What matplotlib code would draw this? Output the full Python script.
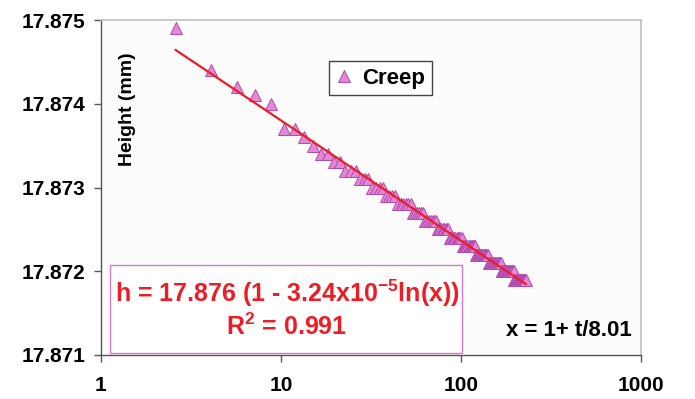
import numpy as np
import matplotlib
matplotlib.use("Agg")
import matplotlib.pyplot as plt
from matplotlib.patches import Rectangle

# x = 1 + t/8.01
x_vals = [2.6, 4.1, 5.7, 7.2, 8.8, 10.4, 11.9, 13.5, 15.0, 16.6,
          18.2, 19.7, 21.3, 22.8, 24.4, 26.0, 27.5, 29.1, 30.6, 32.2,
          33.8, 35.3, 36.9, 38.4, 40.0, 41.6, 43.1, 44.7, 46.2, 47.8,
          49.4, 50.9, 52.5, 54.0, 55.6, 57.2, 58.7, 60.3, 61.8, 63.4,
          65.0, 66.5, 68.1, 69.6, 71.2, 72.8, 74.3, 75.9, 77.4, 79.0,
          80.6, 82.1, 83.7, 85.2, 86.8, 88.4, 89.9, 91.5, 93.0, 94.6,
          96.2, 97.7, 99.3, 100.8, 102.4, 104.0, 105.5, 107.1, 108.6, 110.2,
          111.8, 113.3, 114.9, 116.4, 118.0, 119.6, 121.1, 122.7, 124.2, 125.8,
          127.4, 128.9, 130.5, 132.0, 133.6, 135.2, 136.7, 138.3, 139.8, 141.4,
          143.0, 144.5, 146.1, 147.6, 149.2, 150.8, 152.3, 153.9, 155.4, 157.0,
          158.6, 160.1, 161.7, 163.2, 164.8, 166.4, 167.9, 169.5, 171.0, 172.6,
          174.2, 175.7, 177.3, 178.8, 180.4, 182.0, 183.5, 185.1, 186.6, 188.2,
          189.8, 191.3, 192.9, 194.4, 196.0, 197.6, 199.1, 200.7, 202.2, 203.8,
          205.4, 206.9, 208.5, 210.0, 211.6, 213.2, 214.7, 216.3, 217.8, 219.4,
          221.0, 222.5, 224.1, 225.6, 227.2, 228.8]

# heights are quantised to 0.1 um: level and how many successive points sit on it
h_levels = [17.8749, 17.8744, 17.8742, 17.8741, 17.8740, 17.8737, 17.8736, 17.8735,
            17.8734, 17.8733, 17.8732, 17.8731, 17.8730, 17.8729, 17.8728, 17.8727,
            17.8726, 17.8725, 17.8724, 17.8723, 17.8722, 17.8721, 17.8720, 17.8719]
h_counts = [1, 1, 1, 1, 1, 2, 1, 1,
            2, 2, 3, 3, 4, 4, 6, 6,
            7, 8, 10, 12, 14, 16, 19, 21]

x_ticks = [1, 10, 100, 1000]
y_ticks = [17.871, 17.872, 17.873, 17.874, 17.875]

x = np.array(x_vals)
h = np.repeat(h_levels, h_counts)
n = min(len(x), len(h))
x, h = x[:n], h[:n]

plt.rcParams['font.family'] = ['Liberation Sans', 'DejaVu Sans']
plt.rcParams['font.weight'] = 'bold'
plt.rcParams['mathtext.fontset'] = 'custom'
plt.rcParams['mathtext.rm'] = 'Liberation Sans:bold'
plt.rcParams['mathtext.it'] = 'Liberation Sans:bold'
plt.rcParams['mathtext.bf'] = 'Liberation Sans:bold'

fig = plt.figure(figsize=(6.95, 3.99), dpi=100)
ax = fig.add_axes([101 / 695, 1 - 355 / 399, 540 / 695, 335 / 399])
ax.set_facecolor('#fcfcfc')

ax.plot(x, h, linestyle='none', marker='^', markersize=9,
        markerfacecolor='#e488d6', markeredgecolor='#b04aae', markeredgewidth=0.7,
        label='Creep', zorder=3)

# log fit h = a + b ln(x)
b, a = np.polyfit(np.log(x), h, 1)
xf = np.array([x[0], x[-1]])
ax.plot(xf, a + b * np.log(xf), color='#ee1c24', lw=1.6, zorder=4)

ax.set_xscale('log')
ax.set_xlim(1, 1000)
ax.set_ylim(17.871, 17.875)
ax.set_xticks(x_ticks)
ax.set_xticklabels([str(v) for v in x_ticks])
ax.minorticks_off()
ax.set_yticks(y_ticks)
ax.set_yticklabels(['%.3f' % v for v in y_ticks])
ax.tick_params(axis='both', labelsize=15, length=5, width=1, color='#555555', pad=6)
ax.tick_params(axis='x', pad=10)

for side in ['top', 'right']:
    ax.spines[side].set_color('#c0c0c0')
    ax.spines[side].set_linewidth(1.2)
for side in ['left', 'bottom']:
    ax.spines[side].set_color('#555555')
    ax.spines[side].set_linewidth(1.0)

ax.text(0.05, 0.735, 'Height (mm)', transform=ax.transAxes, rotation=90,
        ha='center', va='center', fontsize=14, fontweight='bold')

leg = ax.legend(loc='upper left', bbox_to_anchor=(0.422, 0.878), borderaxespad=0,
                fancybox=False, fontsize=16, handlelength=0.8, handletextpad=0.4,
                borderpad=0.3, framealpha=1, markerscale=1.0)
leg.get_frame().set_edgecolor('#444444')
leg.get_frame().set_linewidth(1.0)

ax.add_patch(Rectangle((9 / 540, 2 / 335), 352 / 540, 88 / 335, transform=ax.transAxes,
                       facecolor='white', edgecolor='#d27ac8', lw=1.0, zorder=5))
ax.text(186 / 540, (355 - 293) / 335, r'h = 17.876 (1 - 3.24x10$^{-5}$ln(x))',
        transform=ax.transAxes, ha='center', va='center', color='#ee1c24',
        fontsize=18, fontweight='bold', zorder=6)
ax.text(186 / 540, (355 - 327) / 335, r'R$^{2}$ = 0.991',
        transform=ax.transAxes, ha='center', va='center', color='#ee1c24',
        fontsize=18, fontweight='bold', zorder=6)
ax.text(531 / 540, (355 - 331) / 335, 'x = 1+ t/8.01', transform=ax.transAxes,
        ha='right', va='center', fontsize=16, fontweight='bold')

fig.savefig('out.png', dpi=100)
